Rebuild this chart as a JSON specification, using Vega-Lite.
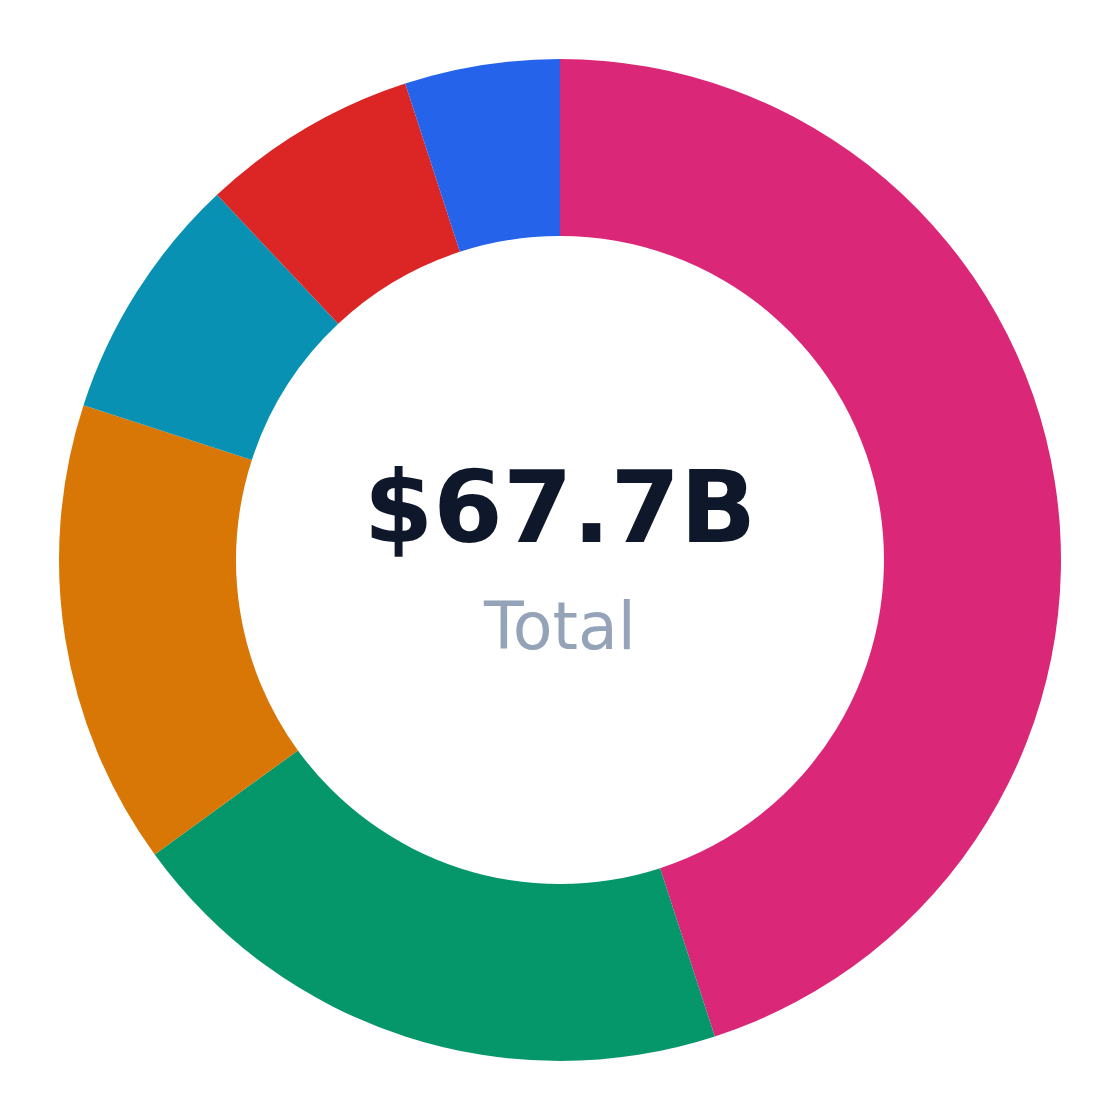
{
  "$schema": "https://vega.github.io/schema/vega-lite/v6.json",
  "width": 1120,
  "height": 1120,
  "autosize": {"type": "fit", "contains": "padding"},
  "padding": 0,
  "background": "white",
  "config": {"view": {"stroke": null}},
  "layer": [
    {
      "data": {
        "values": [
          {"idx": 1, "segment": "A", "value": 30.465},
          {"idx": 2, "segment": "B", "value": 13.54},
          {"idx": 3, "segment": "C", "value": 10.155},
          {"idx": 4, "segment": "D", "value": 5.416},
          {"idx": 5, "segment": "E", "value": 4.739},
          {"idx": 6, "segment": "F", "value": 3.385}
        ]
      },
      "mark": {"type": "arc", "radius": 501, "radius2": 324},
      "encoding": {
        "theta": {"field": "value", "type": "quantitative", "stack": true},
        "order": {"field": "idx", "type": "quantitative"},
        "color": {
          "field": "segment",
          "type": "nominal",
          "scale": {
            "domain": ["A", "B", "C", "D", "E", "F"],
            "range": ["#db2777", "#059669", "#d97706", "#0891b2", "#dc2626", "#2563eb"]
          },
          "legend": null
        }
      }
    },
    {
      "data": {"values": [{"label": "$67.7B"}]},
      "mark": {"type": "text", "font": "DejaVu Sans", "fontWeight": "bold", "fontSize": 100, "color": "#0f172a", "align": "center", "baseline": "alphabetic", "dy": -18},
      "encoding": {"text": {"field": "label"}}
    },
    {
      "data": {"values": [{"label": "Total"}]},
      "mark": {"type": "text", "font": "DejaVu Sans", "fontSize": 65, "color": "#94a3b8", "align": "center", "baseline": "alphabetic", "dy": 89},
      "encoding": {"text": {"field": "label"}}
    }
  ]
}
